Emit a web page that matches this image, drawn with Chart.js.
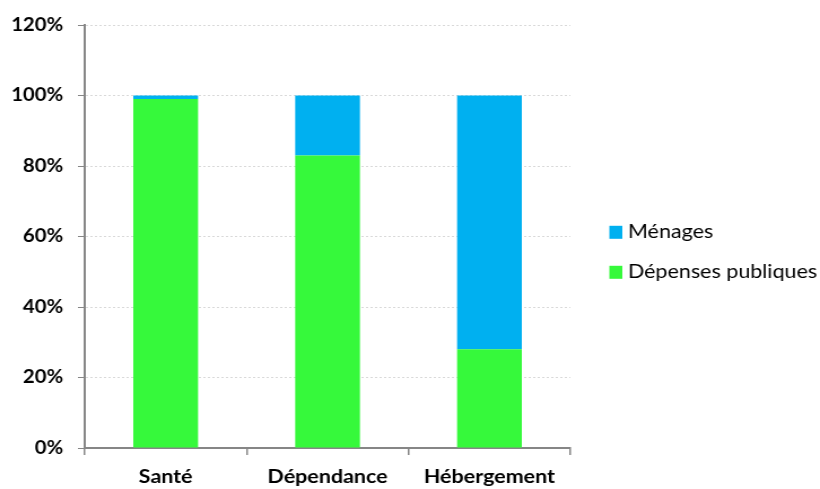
<!DOCTYPE html>
<html>
<head>
<meta charset="utf-8">
<script src="https://cdn.jsdelivr.net/npm/chart.js@4/dist/chart.umd.min.js"></script>
<style>
html,body{margin:0;padding:0;background:#fff;}
#wrap{width:820px;height:489px;position:relative;overflow:hidden;}
#c{width:820px;height:489px;display:block;}
</style>
</head>
<body>
<div id="wrap"><canvas id="c" width="726" height="489" style="width:820px;height:489px;"></canvas></div>
<script>
const categories = ['Santé', 'Dépendance', 'Hébergement'];
const depensesPubliques = [99, 83, 28];
const menages = [1, 17, 72];
const yTicks = [0, 20, 40, 60, 80, 100, 120];

const GREEN = '#36f93b';
const BLUE = '#00b0f0';
const AXIS = '#868686';
const FONT = 'Lato, Carlito, Calibri, sans-serif';

// simple right-hand legend drawn with the chart (items in reverse dataset order)
const sideLegend = {
  id: 'sideLegend',
  afterDraw(chart, args, opts) {
    const ctx = chart.ctx;
    const items = chart.data.datasets.map(d => ({ text: d.label, color: d.backgroundColor })).reverse();
    ctx.save();
    ctx.font = `${opts.fontSize}px ${FONT}`;
    ctx.textBaseline = 'alphabetic';
    ctx.textAlign = 'left';
    items.forEach((it, i) => {
      const cy = opts.firstY + i * opts.spacing;
      ctx.fillStyle = it.color;
      ctx.fillRect(opts.boxX, cy - opts.boxH / 2, opts.boxW, opts.boxH);
      ctx.fillStyle = '#000';
      ctx.fillText(it.text, opts.textX, cy + opts.baselineOffset);
    });
    ctx.restore();
  }
};

new Chart(document.getElementById('c'), {
  type: 'bar',
  data: {
    labels: categories,
    datasets: [
      { label: 'Dépenses publiques', data: depensesPubliques, backgroundColor: GREEN, borderWidth: 0 },
      { label: 'Ménages', data: menages, backgroundColor: BLUE, borderWidth: 0 }
    ]
  },
  plugins: [sideLegend],
  options: {
    responsive: false,
    maintainAspectRatio: false,
    animation: false,
    devicePixelRatio: 1,
    layout: { padding: { top: 25, right: 221, bottom: 0, left: 0 } },
    datasets: { bar: { categoryPercentage: 1, barPercentage: 0.4 } },
    plugins: {
      tooltip: { enabled: false },
      legend: { display: false },
      sideLegend: { boxX: 539.5, boxW: 11.5, boxH: 13, textX: 556, firstY: 232.3, spacing: 40, fontSize: 19, baselineOffset: 5.5 }
    },
    scales: {
      x: {
        stacked: true,
        offset: true,
        grid: { offset: true, drawOnChartArea: false, tickLength: 7, color: AXIS, tickColor: AXIS, lineWidth: 1.5 },
        border: { color: AXIS, width: 2 },
        ticks: { color: '#000', padding: 10, font: { family: FONT, size: 19, weight: 'bold' } },
        afterFit: s => { s.height = 41; }
      },
      y: {
        stacked: true,
        min: 0, max: 120,
        afterBuildTicks: s => { s.ticks = yTicks.map(v => ({ value: v })); },
        grid: { color: '#d9d9d9', tickColor: AXIS, tickLength: 6, tickBorderDash: [], lineWidth: 1 },
        border: { color: AXIS, width: 2, dash: [2, 2] },
        ticks: { color: '#000', padding: 13, font: { family: FONT, size: 18, weight: 'bold' }, callback: v => v + '%' },
        afterFit: s => { s.width = 75; }
      }
    }
  }
});
</script>
</body>
</html>
